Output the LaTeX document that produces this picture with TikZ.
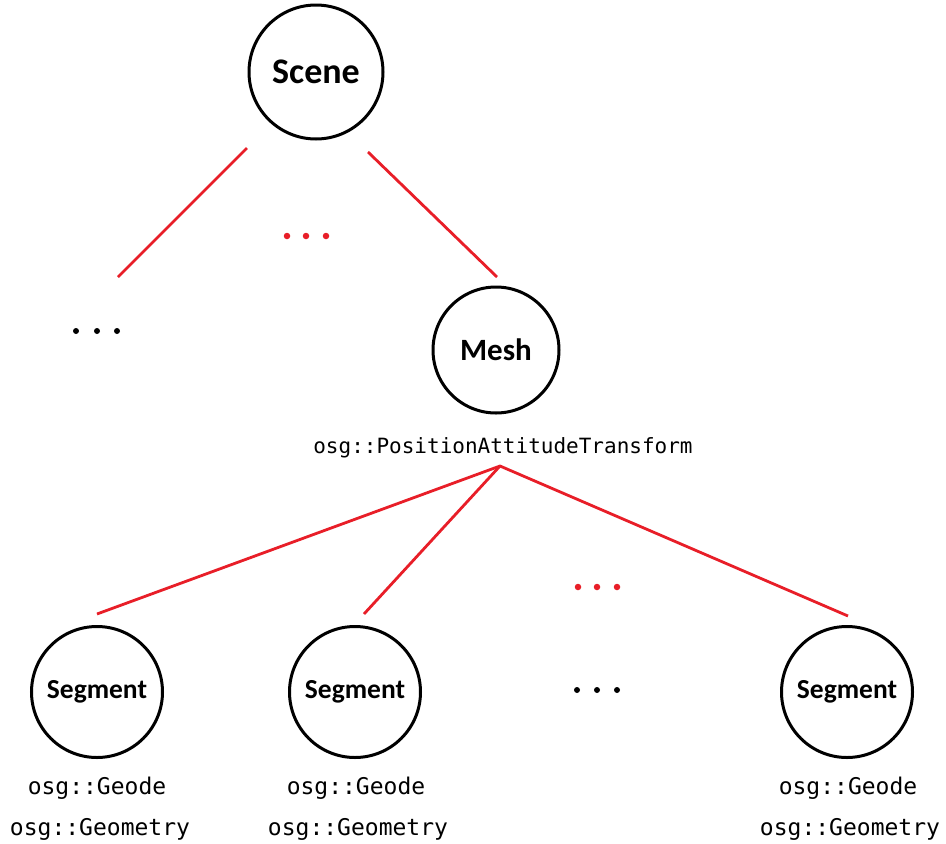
\documentclass[tikz,border=0pt]{standalone}
\usepackage{fontspec}
\setmainfont{Carlito}
\newfontfamily\monof{DejaVu Sans Mono}
\definecolor{lred}{RGB}{232,30,40}
\begin{document}
\begin{tikzpicture}[x=1pt,y=-1pt,
  circ/.style={draw=black,line width=3pt,circle,inner sep=0pt,font=\bfseries},
  link/.style={draw=lred,line width=2.8pt},
  lab/.style={inner sep=0pt,anchor=base,font=\monof\fontsize{23}{23}\selectfont},
  rdot/.style={fill=lred,circle,inner sep=0pt,minimum size=6.5pt},
  bdot/.style={fill=black,circle,inner sep=0pt,minimum size=6pt}]
\useasboundingbox (0,0) rectangle (946,844);
\node[circ,minimum size=134pt,font=\bfseries\fontsize{36}{36}\selectfont] (scene) at (316,72) {Scene};
\node[circ,minimum size=126pt,font=\bfseries\fontsize{31}{31}\selectfont] (mesh) at (496,350) {Mesh};
\node[circ,minimum size=131pt,font=\bfseries\fontsize{27.5}{27.5}\selectfont] (s1) at (97,692) {Segment};
\node[circ,minimum size=131pt,font=\bfseries\fontsize{27.5}{27.5}\selectfont] (s2) at (355,692) {Segment};
\node[circ,minimum size=131pt,font=\bfseries\fontsize{27.5}{27.5}\selectfont] (s3) at (847,692) {Segment};
\node[lab,font=\monof\fontsize{21}{21}\selectfont] (pat) at (503,453) {osg::PositionAttitudeTransform};
\node[lab] (g1) at (97,794) {osg::Geode};
\node[lab] (m1) at (100,835) {osg::Geometry};
\node[lab] (g2) at (356,794) {osg::Geode};
\node[lab] (m2) at (358,835) {osg::Geometry};
\node[lab] (g3) at (848,794) {osg::Geode};
\node[lab] (m3) at (850,835) {osg::Geometry};
% connectors
\coordinate (sl1) at (247,148);
\coordinate (sl2) at (118,277);
\coordinate (sr1) at (368,152);
\coordinate (sr2) at (497,277);
\coordinate (apex) at (500,466);
\coordinate (e1) at (97,614);
\coordinate (e2) at (364,614);
\coordinate (e3) at (848,616);
\draw[link] (sl1) -- (sl2);
\draw[link] (sr1) -- (sr2);
\draw[link,line join=miter] (e1) -- (apex) -- (e3);
\draw[link] (apex) -- (e2);
% dots
\foreach \x [count=\i] in {287,306,326} \node[rdot] (rd\i) at (\x,236) {};
\foreach \x [count=\i] in {578,597,617} \node[rdot] (re\i) at (\x,587) {};
\foreach \x [count=\i] in {76,97,117} \node[bdot] (bd\i) at (\x,331) {};
\foreach \x [count=\i] in {577,597,617} \node[bdot] (be\i) at (\x,690) {};
\end{tikzpicture}
\end{document}
